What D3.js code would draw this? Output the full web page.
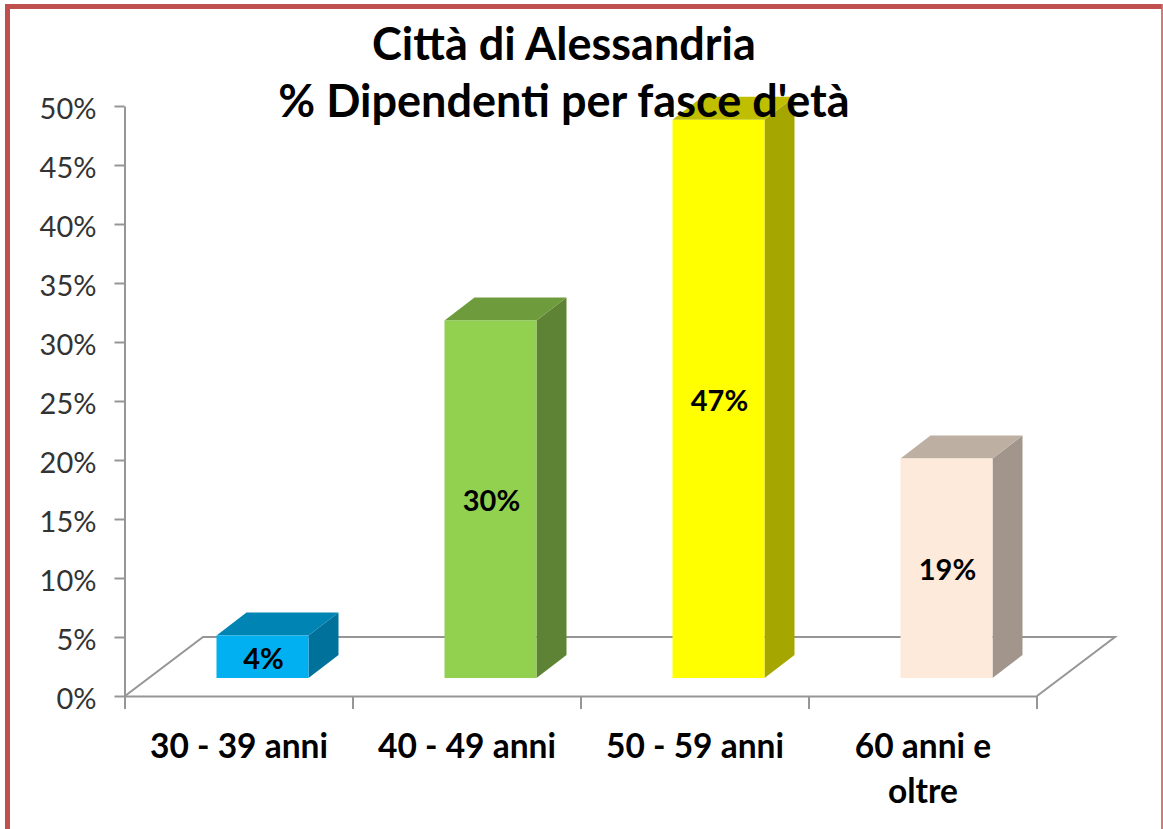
<!DOCTYPE html>
<meta charset="utf-8">
<style>
  html, body { margin: 0; padding: 0; background: #fff; }
  text { font-family: Lato, "Open Sans", sans-serif; }
</style>
<script src="https://d3js.org/d3.v7.min.js"></script>
<div id="chart"></div>
<script>
// values (labels show them rounded)
var categories = ["30 - 39 anni", "40 - 49 anni", "50 - 59 anni", "60 anni e|oltre"];
var values = [3.6, 30.3, 47.3, 18.6];
var yTicks = [0, 5, 10, 15, 20, 25, 30, 35, 40, 45, 50];
var frontColors = ["#00b0f0", "#92d050", "#ffff00", "#fdeada"];
var topColors = ["#0084b4", "#6e9c3c", "#bfbf00", "#bdb0a3"];
var sideColors = ["#00719a", "#5e8334", "#a6a600", "#a2968c"];
var titleLines = ["Città di Alessandria", "% Dipendenti per fasce d'età"];

var width = 1163, height = 829;
var axisColor = "#969696";

var svg = d3.select("#chart").append("svg")
  .attr("width", width)
  .attr("height", height)
  .style("display", "block");

// red frame
svg.append("path")
  .attr("d", "M7.5,829V6.5H1161.5")
  .attr("fill", "none")
  .attr("stroke", "#c0504d")
  .attr("stroke-width", 5);
svg.append("line")
  .attr("x1", 1162).attr("x2", 1162).attr("y1", 4).attr("y2", 829)
  .attr("stroke", "#c0504d").attr("stroke-width", 1.5);

// scales
var y = d3.scaleLinear().domain([0, 50]).range([696, 106]);
var x = d3.scaleBand().domain(categories).range([125, 1037]);
var xTicks = d3.scaleLinear().domain([0, categories.length]).range(x.range());

// perspective of the 3d box and floor
var floorDx = 78, floorDy = y(0) - y(5);
var barWidth = 92, barDx = 30, barDy = 23, barLift = 18;

// floor
svg.append("path")
  .attr("d", d3.line()([
    [x.range()[0], y(0)],
    [x.range()[0] + floorDx, y(0) - floorDy],
    [x.range()[1] + floorDx, y(0) - floorDy],
    [x.range()[1], y(0)]
  ]))
  .attr("fill", "none")
  .attr("stroke", axisColor)
  .attr("stroke-width", 2);

// axes
var yAxis = svg.append("g")
  .attr("transform", "translate(124.5,0)")
  .call(d3.axisLeft(y).tickValues(yTicks).tickFormat(function (d) { return d + "%"; }).tickSize(10).tickSizeOuter(0).tickPadding(18));
var xAxis = svg.append("g")
  .attr("transform", "translate(-0.5,696)")
  .call(d3.axisBottom(xTicks).tickValues(d3.range(categories.length + 1)).tickFormat("").tickSize(13).tickSizeOuter(0));
svg.selectAll(".domain, .tick line")
  .attr("stroke", axisColor)
  .attr("stroke-width", 2);
yAxis.selectAll("text")
  .attr("font-size", 29)
  .attr("dy", "0.42em")
  .attr("fill", "#333");

// bars
var bars = svg.append("g").selectAll("g")
  .data(values)
  .enter()
  .append("g");

function barLeft(i) { return x(categories[i]) + x.step() / 2 - barWidth / 2 + 23.5; }
function barTop(d) { return y(d) - barLift; }
var barBottom = y(0) - barLift;

bars.append("path")
  .attr("fill", function (d, i) { return sideColors[i]; })
  .attr("d", function (d, i) {
    var r = barLeft(i) + barWidth;
    return d3.line()([[r, barTop(d)], [r + barDx, barTop(d) - barDy], [r + barDx, barBottom - barDy], [r, barBottom]]) + "Z";
  });
bars.append("path")
  .attr("fill", function (d, i) { return topColors[i]; })
  .attr("d", function (d, i) {
    var l = barLeft(i);
    return d3.line()([[l, barTop(d)], [l + barDx, barTop(d) - barDy], [l + barWidth + barDx, barTop(d) - barDy], [l + barWidth, barTop(d)]]) + "Z";
  });
bars.append("rect")
  .attr("x", function (d, i) { return barLeft(i); })
  .attr("y", barTop)
  .attr("width", barWidth)
  .attr("height", function (d) { return barBottom - barTop(d); })
  .attr("fill", function (d, i) { return frontColors[i]; });
bars.append("text")
  .attr("x", function (d, i) { return barLeft(i) + barWidth / 2 + 1; })
  .attr("y", function (d) { return (barTop(d) + barBottom) / 2 + 12; })
  .attr("text-anchor", "middle")
  .attr("font-size", 29)
  .attr("font-weight", 700)
  .attr("fill", "#000")
  .text(function (d) { return Math.round(d) + "%"; });

// category labels, "|" marks a line break
categories.forEach(function (c) {
  c.split("|").forEach(function (line, j) {
    svg.append("text")
      .attr("x", x(c) + x.step() / 2)
      .attr("y", 758 + j * 45)
      .attr("text-anchor", "middle")
      .attr("font-size", 33.5)
      .attr("font-weight", 700)
      .attr("fill", "#000")
      .text(line);
  });
});

// title sits on top of the bars
titleLines.forEach(function (line, j) {
  svg.append("text")
    .attr("x", 564)
    .attr("y", 60 + j * 57)
    .attr("text-anchor", "middle")
    .attr("font-size", 45)
    .attr("font-weight", 700)
    .attr("fill", "#000")
    .text(line);
});
</script>
